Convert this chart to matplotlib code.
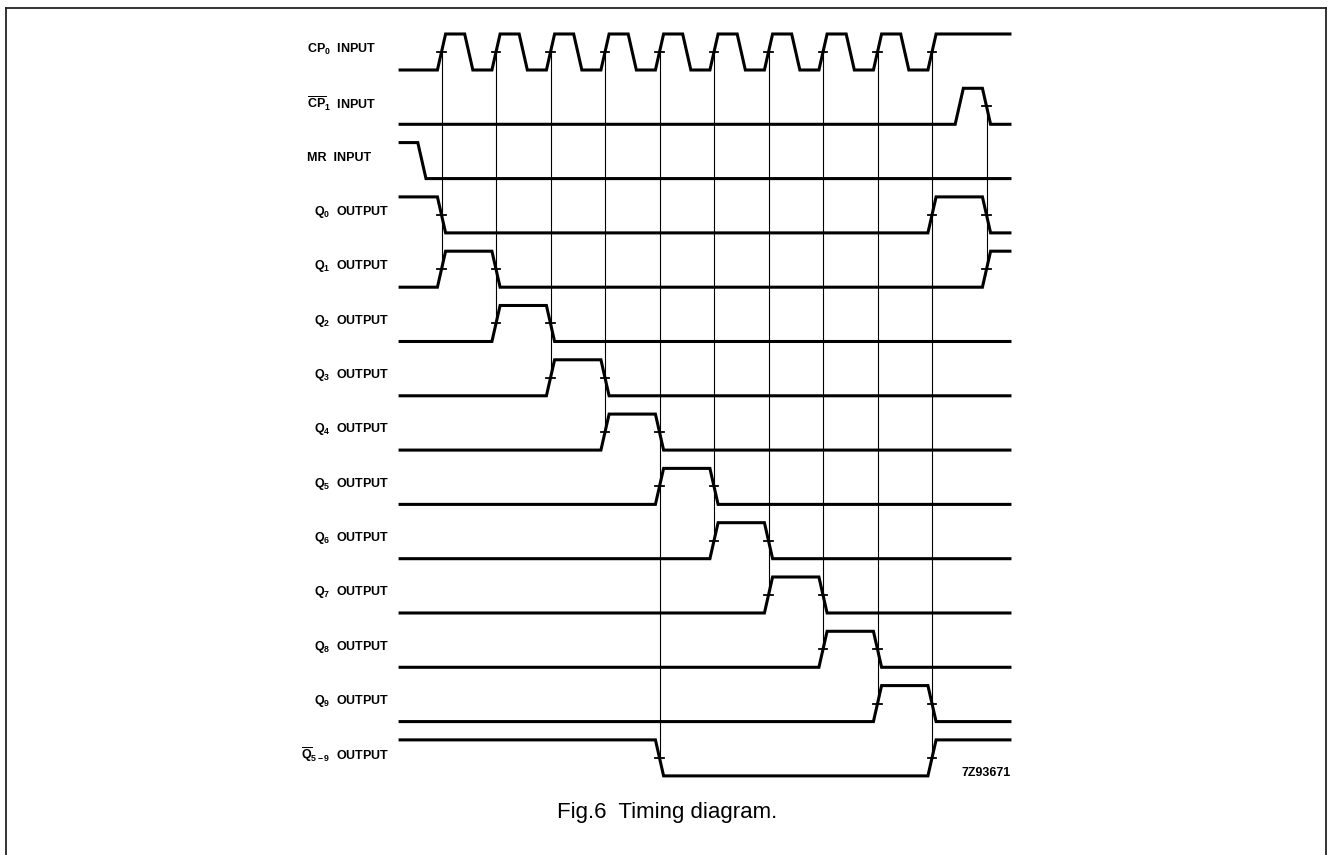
import matplotlib.pyplot as plt
from matplotlib.lines import Line2D

plt.rcParams['mathtext.fontset'] = 'custom'
plt.rcParams['mathtext.rm'] = 'Liberation Sans:bold'
plt.rcParams['mathtext.it'] = 'Liberation Sans:bold'
plt.rcParams['mathtext.bf'] = 'Liberation Sans:bold'

# signal names (row order, top to bottom)
labels = [r'CP$_0$  INPUT', r'$\overline{\mathrm{CP}}_1$  INPUT', 'MR  INPUT',
          r'Q$_0$  OUTPUT', r'Q$_1$  OUTPUT', r'Q$_2$  OUTPUT', r'Q$_3$  OUTPUT',
          r'Q$_4$  OUTPUT', r'Q$_5$  OUTPUT', r'Q$_6$  OUTPUT', r'Q$_7$  OUTPUT',
          r'Q$_8$  OUTPUT', r'Q$_9$  OUTPUT', r'$\overline{\mathrm{Q}}_{5-9}$  OUTPUT']

# starting level of each signal (1 = high, 0 = low)
start_level = [0, 0, 1, 1, 0, 0, 0, 0, 0, 0, 0, 0, 0, 1]

# transition times (in clock periods), every one toggles the level
edges = [
    [0, 0.5, 1, 1.5, 2, 2.5, 3, 3.5, 4, 4.5, 5, 5.5, 6, 6.5, 7, 7.5, 8, 8.5, 9],
    [9.5, 10],
    [-0.36],
    [0, 9, 10],
    [0, 1, 10],
    [1, 2],
    [2, 3],
    [3, 4],
    [4, 5],
    [5, 6],
    [6, 7],
    [7, 8],
    [8, 9],
    [4, 9],
]

# transitions that carry a small reference mark
marked = [
    [0, 1, 2, 3, 4, 5, 6, 7, 8, 9],
    [10],
    [],
    [0, 9, 10],
    [0, 1, 10],
    [1, 2], [2, 3], [3, 4], [4, 5], [5, 6], [6, 7], [7, 8], [8, 9],
    [4, 9],
]

# vertical reference lines: (time, from row, to row)
links = [(0, 0, 4), (1, 0, 5), (2, 0, 6), (3, 0, 7), (4, 0, 13),
         (5, 0, 9), (6, 0, 10), (7, 0, 11), (8, 0, 12), (9, 0, 13),
         (10, 1, 4)]

t_start, t_end = -0.76, 10.43
slope = 0.15      # width of a transition
amp = 0.663       # high/low distance in row units

fig = plt.figure(figsize=(13.34, 8.55), dpi=100)
ax = fig.add_axes([0, 0, 1, 1])
ax.set_xlim(-8.101, 16.376)
ax.set_ylim(-15.12, 0.626)
ax.axis('off')


def level_y(row, lev):
    return -row - (0 if lev else amp)


for row in range(len(labels)):
    lev = start_level[row]
    xs, ys = [t_start], [level_y(row, lev)]
    for t in edges[row]:
        xs += [t - slope / 2, t + slope / 2]
        ys += [level_y(row, lev), level_y(row, 1 - lev)]
        lev = 1 - lev
    xs.append(t_end)
    ys.append(level_y(row, lev))
    ax.plot(xs, ys, color='black', lw=2.2, solid_joinstyle='miter')

    mid = -row - amp / 2
    for t in marked[row]:
        ax.plot([t - 0.075, t + 0.075], [mid, mid], color='black', lw=1.3)

    if 'INPUT' in labels[row]:
        ax.text(-2.47, mid + 0.05, labels[row], fontsize=9, fontweight='bold',
                family='Liberation Sans', ha='left', va='center')
    else:
        ax.text(-0.95, mid + 0.05, labels[row], fontsize=9, fontweight='bold',
                family='Liberation Sans', ha='right', va='center')

for t, r0, r1 in links:
    ax.plot([t, t], [-r0 - amp / 2, -r1 - amp / 2], color='black', lw=0.8)

ax.text(10.0, -13.61, '7Z93671', fontsize=9, fontweight='bold',
        family='Liberation Sans', ha='center', va='center')
ax.text(4.14, -14.33, 'Fig.6  Timing diagram.', fontsize=16,
        family='Liberation Sans', ha='center', va='center')

# outer frame (open at the bottom)
for xy in [([6, 1326], [8, 8]), ([6, 6], [8, 855]), ([1326, 1326], [8, 855])]:
    fig.add_artist(Line2D([v / 1334 for v in xy[0]], [1 - v / 855 for v in xy[1]],
                          color='#222222', lw=1.3))

fig.savefig('out.png', dpi=100)
